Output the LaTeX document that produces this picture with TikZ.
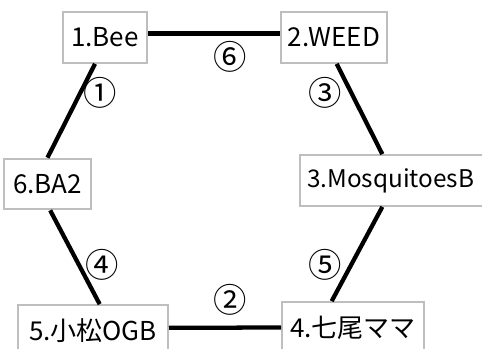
\documentclass[tikz,border=0pt]{standalone}
\usepackage{fontspec}
\setmainfont{Noto Sans CJK JP}
\definecolor{boxgray}{RGB}{190,190,190}
\tikzset{every picture/.style={line width=0.75pt}}
\tikzset{team/.style={draw=boxgray,line width=1.5pt,fill=white,minimum height=38pt,inner sep=0pt,font=\fontsize{19.5}{22}\selectfont},
  link/.style={black,line width=3.2pt},
  num/.style={font=\fontsize{25}{28}\selectfont}}
\begin{document}
\begin{tikzpicture}[x=0.75pt,y=-0.75pt]
\tikzstyle{every node}+=[inner sep=0pt]
\clip (0,0) rectangle (482,349);
\fill [white] (0,0) rectangle (482,349);
% the six teams
\node [team,minimum width=63pt] (bee) at (105,37.5) {1.Bee};
\node [team,minimum width=79.5pt] (weed) at (334,37.5) {2.WEED};
\node [team,minimum width=139.5pt,text width=135pt,align=left,font=\fontsize{18.25}{22}\selectfont] (mosq) at (393,180.5) {\hspace*{3pt}3.MosquitoesB};
\node [team,minimum width=65pt] (ba) at (47.5,184) {6.BA2};
\node [team,minimum width=112.5pt] (komatsu) at (93,330.5) {5.小松OGB};
\node [team,minimum width=106.5pt] (nanao) at (353,327.5) {4.七尾ママ};
% matches
\draw [link] ([yshift=3pt]bee.east) -- ([yshift=3pt]weed.west);
\draw [link] ([xshift=-7.5pt]bee.south) -- (ba.north);
\draw [link] ([xshift=2pt]ba.south) -- ([xshift=5pt]komatsu.north);
\draw [link] ([xshift=2pt]weed.south) -- ([xshift=-8pt]mosq.north);
\draw [link] ([xshift=-8pt]mosq.south) -- ([xshift=-16pt]nanao.north);
\draw [link] ([yshift=2pt]komatsu.east) -- (nanao.west);
% match order
\node [num] (m6) at (230,57) {⑥};
\node [num] (m1) at (100,93) {①};
\node [num] (m3) at (325,93) {③};
\node [num] (m4) at (102,265) {④};
\node [num] (m5) at (325,265) {⑤};
\node [num] (m2) at (230,300) {②};
\end{tikzpicture}
\end{document}
